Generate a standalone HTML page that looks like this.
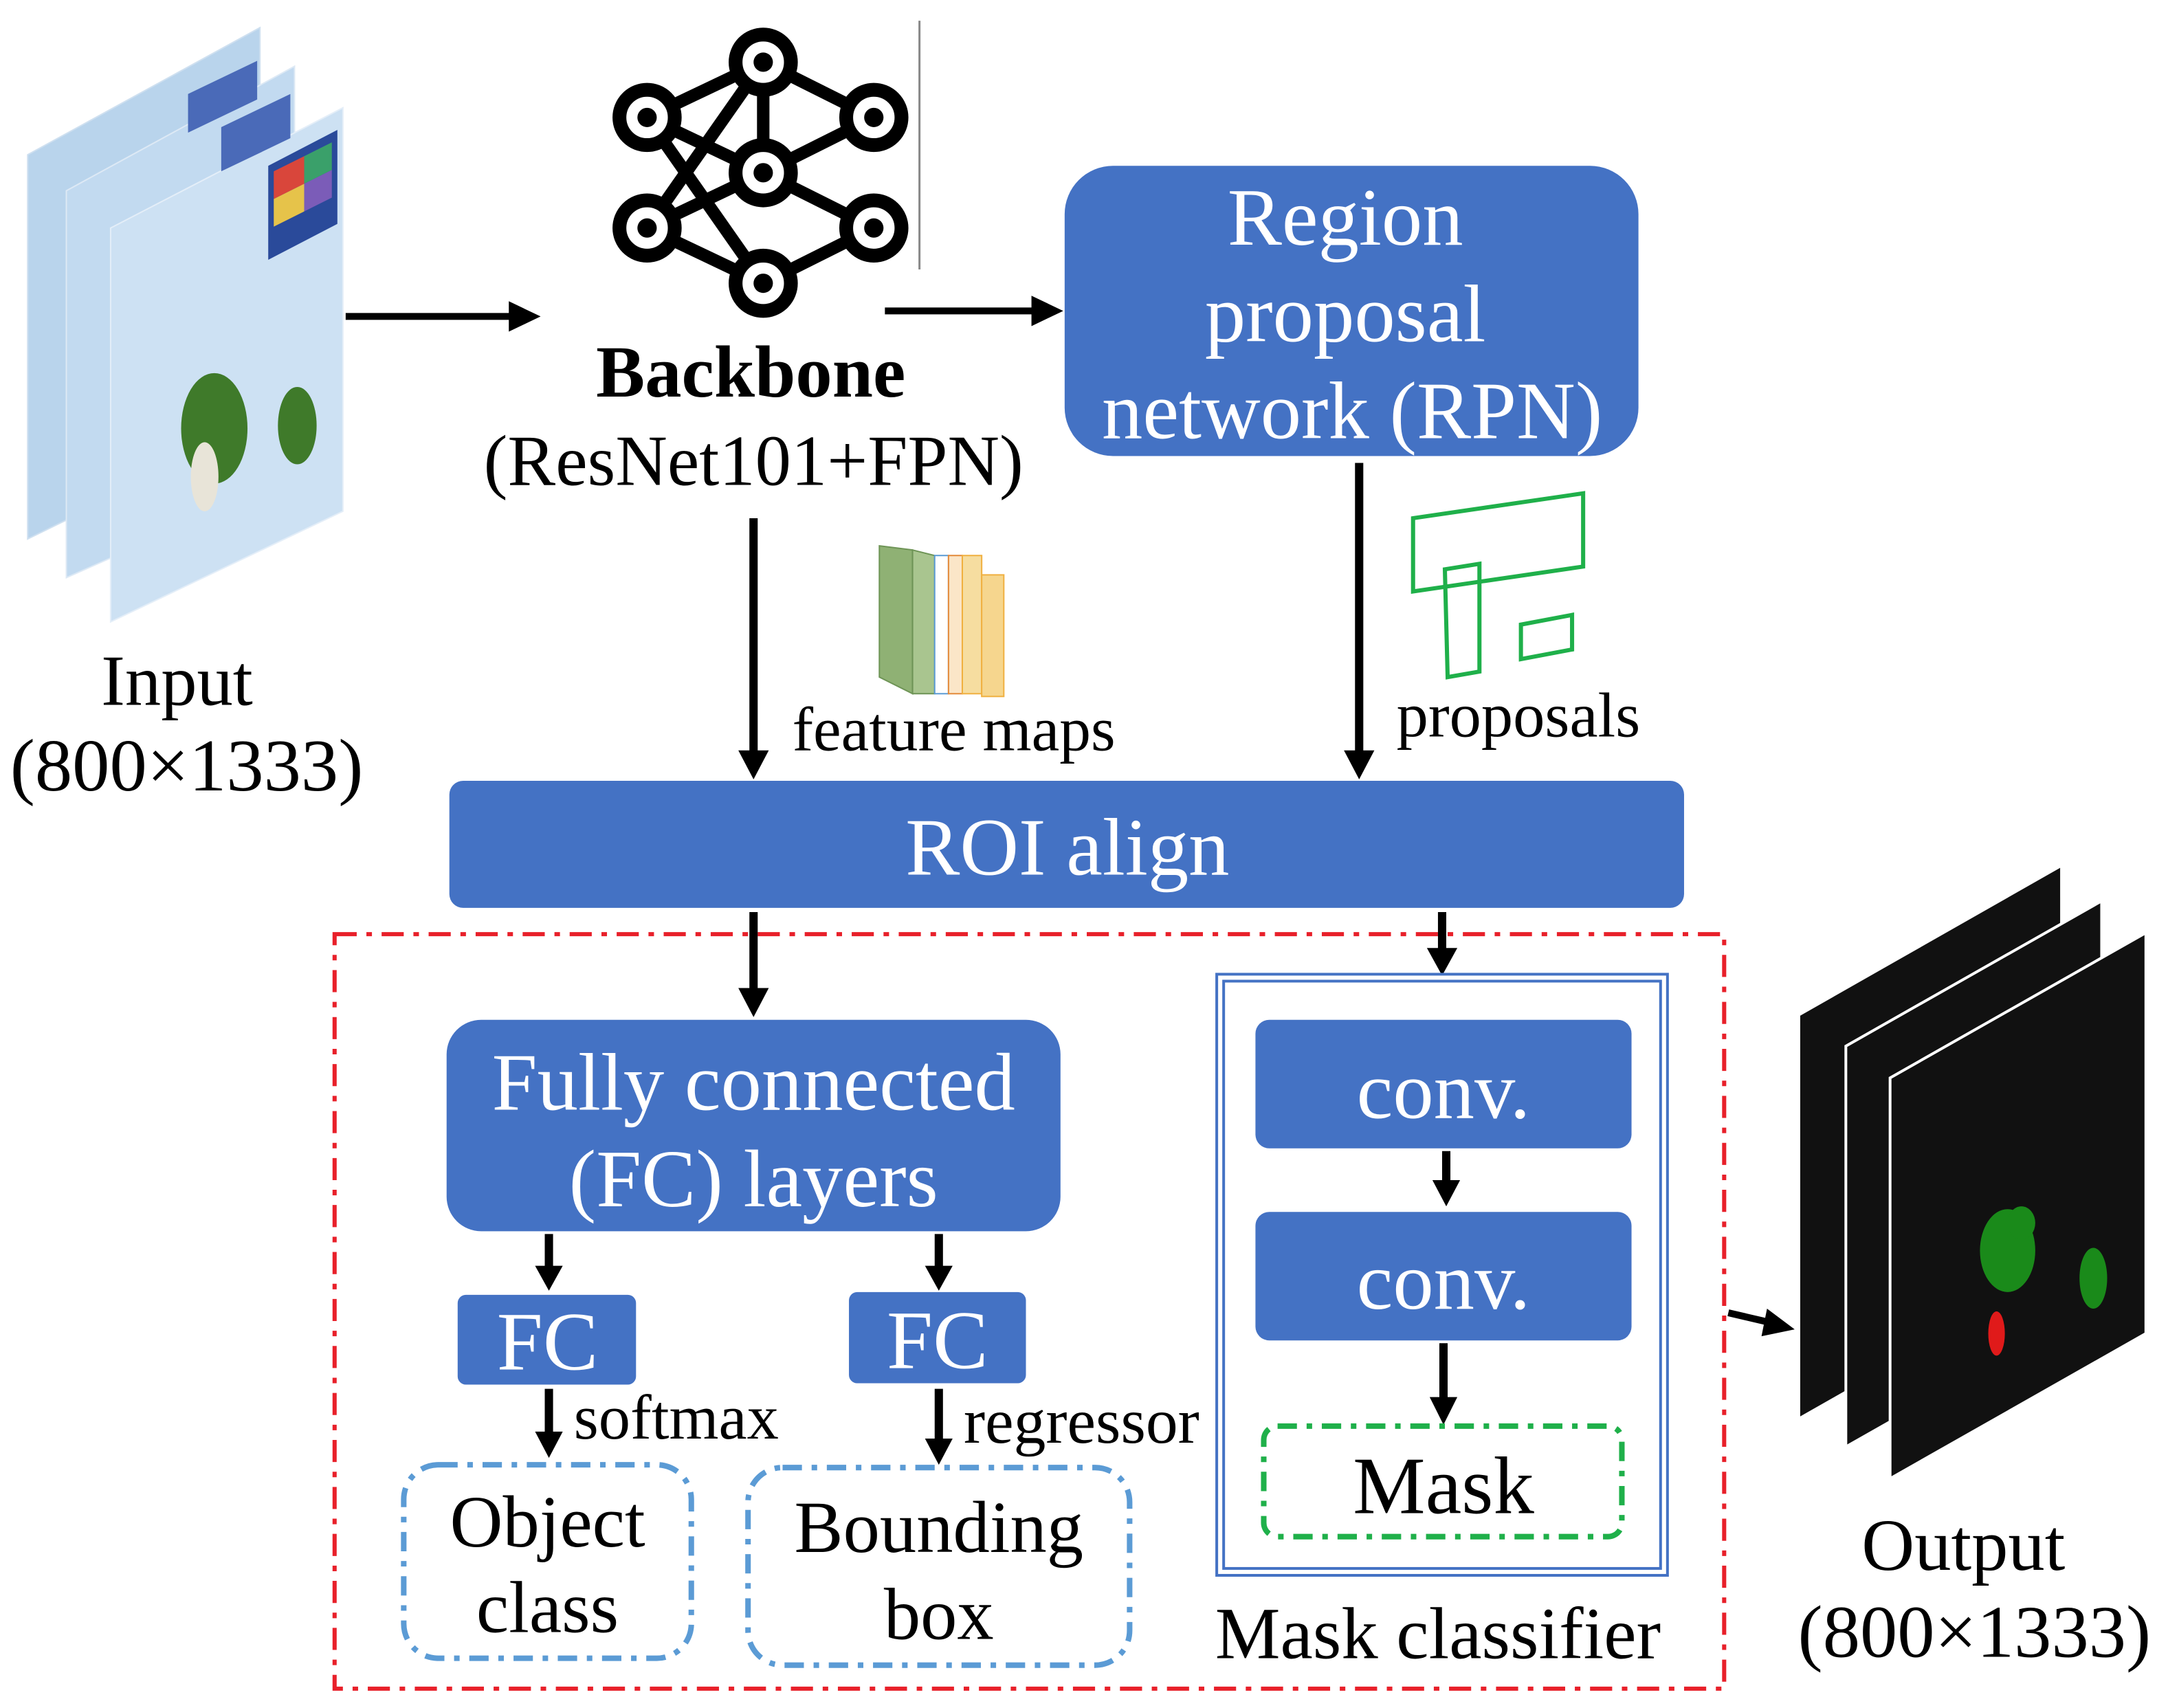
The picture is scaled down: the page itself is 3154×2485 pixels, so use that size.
<!DOCTYPE html>
<html><head><meta charset="utf-8"><style>
html,body{margin:0;padding:0;background:#fff}
svg{display:block}
text{font-family:"Liberation Serif",serif}
</style></head><body>
<svg width="3154" height="2485" viewBox="0 0 1568 1236" preserveAspectRatio="none" xmlns="http://www.w3.org/2000/svg">
<rect width="1568" height="1236" fill="#fff"/>

<!-- Input stack -->
<g>
<polygon points="20,112 188,20 188,308 20,390" fill="#b9d4ec" stroke="#cfe0f0"/>
<polygon points="48,138 213,48 213,345 48,418" fill="#c2daf0" stroke="#dde9f5"/>
<polygon points="80,165 248,78 248,370 80,450" fill="#cde1f3" stroke="#e4eef8"/>
<polygon points="194,120 244,94 244,162 194,188" fill="#2a4a9a"/>
<polygon points="198,124 220,113 220,133 198,144" fill="#d9463b"/>
<polygon points="220,113 240,103 240,123 220,133" fill="#3aa06a"/>
<polygon points="198,144 220,133 220,153 198,164" fill="#e6c34a"/>
<polygon points="220,133 240,123 240,143 220,153" fill="#7b5cb8"/>
<polygon points="160,92 210,68 210,100 160,124" fill="#4a6ab8"/>
<polygon points="136,68 186,44 186,72 136,96" fill="#4a6ab8"/>
<ellipse cx="155" cy="310" rx="24" ry="40" fill="#3f7a2a"/>
<ellipse cx="148" cy="345" rx="10" ry="25" fill="#e8e4d8"/>
<ellipse cx="215" cy="308" rx="14" ry="28" fill="#3f7a2a"/>
</g>
<text x="128" y="510" font-size="52" text-anchor="middle">Input</text>
<text x="135" y="572" font-size="54" text-anchor="middle">(800×1333)</text>

<line x1="250" y1="229" x2="370" y2="229" stroke="#000" stroke-width="5"/>
<polygon points="368,218 391,229 368,240" fill="#000"/>

<!-- NN icon -->
<g stroke="#000" stroke-width="9" fill="none">
<line x1="552" y1="45" x2="468" y2="85"/><line x1="552" y1="45" x2="632" y2="85"/>
<line x1="552" y1="45" x2="552" y2="125"/>
<line x1="468" y1="85" x2="552" y2="125"/><line x1="632" y1="85" x2="552" y2="125"/>
<line x1="468" y1="85" x2="552" y2="205"/><line x1="468" y1="165" x2="552" y2="45"/>
<line x1="552" y1="125" x2="468" y2="165"/><line x1="552" y1="125" x2="632" y2="165"/>
<line x1="468" y1="165" x2="552" y2="205"/><line x1="632" y1="165" x2="552" y2="205"/>
</g>
<g fill="#fff" stroke="#000" stroke-width="10">
<circle cx="552" cy="45" r="20"/><circle cx="468" cy="85" r="20"/><circle cx="632" cy="85" r="20"/>
<circle cx="552" cy="125" r="20"/><circle cx="468" cy="165" r="20"/><circle cx="632" cy="165" r="20"/>
<circle cx="552" cy="205" r="20"/>
</g>
<g fill="#000">
<circle cx="552" cy="45" r="7"/><circle cx="468" cy="85" r="7"/><circle cx="632" cy="85" r="7"/>
<circle cx="552" cy="125" r="7"/><circle cx="468" cy="165" r="7"/><circle cx="632" cy="165" r="7"/>
<circle cx="552" cy="205" r="7"/>
</g>
<line x1="665" y1="15" x2="665" y2="195" stroke="#888" stroke-width="1.5"/>
<text x="543" y="287" font-size="53" font-weight="bold" text-anchor="middle">Backbone</text>
<text x="545" y="351" font-size="52" text-anchor="middle">(ResNet101+FPN)</text>

<line x1="640" y1="225" x2="748" y2="225" stroke="#000" stroke-width="5"/>
<polygon points="746,214 769,225 746,236" fill="#000"/>

<!-- RPN -->
<rect x="770" y="120" width="415" height="210" rx="35" fill="#4472c4"/>
<text x="973" y="177" font-size="59" fill="#fff" text-anchor="middle">Region</text>
<text x="973" y="247" font-size="59" fill="#fff" text-anchor="middle">proposal</text>
<text x="978" y="317" font-size="59" fill="#fff" text-anchor="middle">network (RPN)</text>

<line x1="983" y1="335" x2="983" y2="545" stroke="#000" stroke-width="6"/>
<polygon points="972,543 983,564 994,543" fill="#000"/>
<g fill="none" stroke="#1fb04a" stroke-width="3">
<polygon points="1022,375 1145,357 1145,410 1022,428"/>
<polygon points="1045,412 1070,408 1070,486 1047,490"/>
<polygon points="1100,452 1137,445 1137,470 1100,477"/>
</g>
<text x="1010" y="533" font-size="46">proposals</text>

<line x1="545" y1="375" x2="545" y2="545" stroke="#000" stroke-width="6"/>
<polygon points="534,543 545,564 556,543" fill="#000"/>
<g>
<polygon points="636,395 660,398 660,502 636,490" fill="#8fb174" stroke="#6e9456"/>
<polygon points="660,398 676,402 676,502 660,502" fill="#a9c58f" stroke="#6e9456"/>
<rect x="676" y="402" width="10" height="100" fill="#fff" stroke="#5b9bd5"/>
<rect x="686" y="402" width="10" height="100" fill="#fbe6c8" stroke="#e38a3a"/>
<rect x="696" y="402" width="14" height="100" fill="#f6dda0" stroke="#f0b040"/>
<rect x="710" y="416" width="16" height="88" fill="#f6d68e" stroke="#f0b040"/>
</g>
<text x="573" y="543" font-size="45.5">feature maps</text>

<!-- ROI align -->
<rect x="325" y="565" width="893" height="92" rx="10" fill="#4472c4"/>
<text x="772" y="633" font-size="59" fill="#fff" text-anchor="middle">ROI align</text>

<rect x="242" y="676" width="1005" height="546" fill="none" stroke="#e8202a" stroke-width="3" stroke-dasharray="16,7,4,7"/>

<line x1="545" y1="660" x2="545" y2="717" stroke="#000" stroke-width="6"/>
<polygon points="534,715 545,736 556,715" fill="#000"/>
<line x1="1043" y1="660" x2="1043" y2="688" stroke="#000" stroke-width="6"/>
<polygon points="1032,686 1043,706 1054,686" fill="#000"/>

<rect x="323" y="738" width="444" height="153" rx="25" fill="#4472c4"/>
<text x="545" y="803" font-size="59" fill="#fff" text-anchor="middle">Fully connected</text>
<text x="545" y="873" font-size="59" fill="#fff" text-anchor="middle">(FC) layers</text>

<line x1="397" y1="893" x2="397" y2="918" stroke="#000" stroke-width="6"/>
<polygon points="387,916 397,934 407,916" fill="#000"/>
<line x1="679" y1="893" x2="679" y2="918" stroke="#000" stroke-width="6"/>
<polygon points="669,916 679,934 689,916" fill="#000"/>

<rect x="331" y="937" width="129" height="65" rx="6" fill="#4472c4"/>
<text x="396" y="991" font-size="60" fill="#fff" text-anchor="middle">FC</text>
<rect x="614" y="935" width="128" height="66" rx="6" fill="#4472c4"/>
<text x="678" y="990" font-size="60" fill="#fff" text-anchor="middle">FC</text>

<line x1="397" y1="1005" x2="397" y2="1038" stroke="#000" stroke-width="6"/>
<polygon points="387,1036 397,1055 407,1036" fill="#000"/>
<line x1="679" y1="1005" x2="679" y2="1043" stroke="#000" stroke-width="6"/>
<polygon points="669,1041 679,1060 689,1041" fill="#000"/>
<text x="415" y="1041" font-size="46">softmax</text>
<text x="697" y="1044" font-size="46.5">regressor</text>

<rect x="292" y="1060" width="208" height="140" rx="25" fill="none" stroke="#5b9bd5" stroke-width="4" stroke-dasharray="14,7,4,7"/>
<text x="396" y="1119" font-size="53" text-anchor="middle">Object</text>
<text x="396" y="1181" font-size="53" text-anchor="middle">class</text>
<rect x="541" y="1062" width="276" height="143" rx="25" fill="none" stroke="#5b9bd5" stroke-width="4" stroke-dasharray="14,7,4,7"/>
<text x="679" y="1123" font-size="53" text-anchor="middle">Bounding</text>
<text x="679" y="1186" font-size="53" text-anchor="middle">box</text>

<rect x="880" y="705" width="326" height="435" fill="none" stroke="#4472c4" stroke-width="2"/>
<rect x="885" y="710" width="316" height="425" fill="none" stroke="#4472c4" stroke-width="2"/>
<rect x="908" y="738" width="272" height="93" rx="10" fill="#4472c4"/>
<text x="1044" y="809" font-size="59" fill="#fff" text-anchor="middle">conv.</text>
<rect x="908" y="877" width="272" height="93" rx="10" fill="#4472c4"/>
<text x="1044" y="947" font-size="59" fill="#fff" text-anchor="middle">conv.</text>
<line x1="1046" y1="833" x2="1046" y2="856" stroke="#000" stroke-width="6"/>
<polygon points="1036,854 1046,873 1056,854" fill="#000"/>
<line x1="1044" y1="972" x2="1044" y2="1013" stroke="#000" stroke-width="6"/>
<polygon points="1034,1011 1044,1031 1054,1011" fill="#000"/>
<rect x="914" y="1032" width="259" height="80" rx="10" fill="none" stroke="#1fb04a" stroke-width="4" stroke-dasharray="14,7,4,7"/>
<text x="1044" y="1095" font-size="59" text-anchor="middle">Mask</text>
<text x="1040" y="1200" font-size="53" text-anchor="middle">Mask classifier</text>

<line x1="1250" y1="950" x2="1280" y2="957" stroke="#000" stroke-width="5"/>
<polygon points="1278,947 1298,962 1274,967" fill="#000"/>

<polygon points="1302,735 1490,628 1490,918 1302,1025" fill="#111"/>
<polygon points="1335,757 1520,652 1520,942 1335,1047" fill="#111" stroke="#fff" stroke-width="2"/>
<polygon points="1367,780 1552,675 1552,965 1367,1070" fill="#111" stroke="#fff" stroke-width="2"/>
<ellipse cx="1452" cy="905" rx="20" ry="30" fill="#1a8a1a"/>
<ellipse cx="1462" cy="885" rx="10" ry="12" fill="#1a8a1a"/>
<ellipse cx="1444" cy="965" rx="6" ry="16" fill="#e01a1a"/>
<ellipse cx="1514" cy="925" rx="10" ry="22" fill="#1a8a1a"/>
<text x="1420" y="1136" font-size="53" text-anchor="middle">Output</text>
<text x="1428" y="1199" font-size="54" text-anchor="middle">(800×1333)</text>
</svg>
</body></html>
